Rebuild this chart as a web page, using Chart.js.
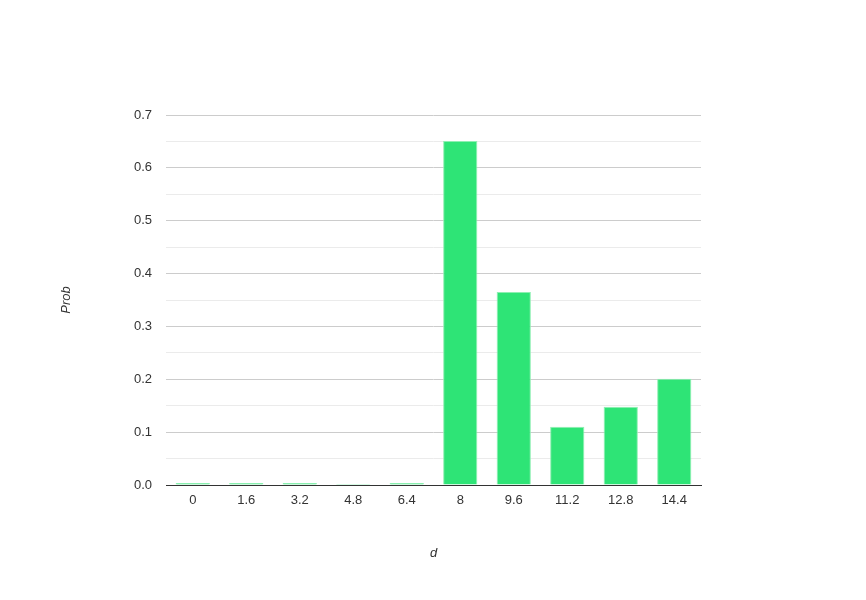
<!DOCTYPE html>
<html>
<head>
<meta charset="utf-8">
<script src="https://cdn.jsdelivr.net/npm/chart.js@4"></script>
<style>
  body { margin: 0; background: #fff; }
  #wrap { width: 866px; height: 600px; }
</style>
</head>
<body>
<div id="wrap"><canvas id="probChart" width="866" height="600"></canvas></div>
<script>
var labels = ["0", "1.6", "3.2", "4.8", "6.4", "8", "9.6", "11.2", "12.8", "14.4"];
var prob = [0.004, 0.004, 0.004, 0.002, 0.004, 0.651, 0.365, 0.110, 0.148, 0.201];

var ctx = document.getElementById("probChart").getContext('2d');

var probChart = new Chart(ctx, {
  type: 'bar',
  data: {
    labels: labels,
    datasets: [{
      data: prob,
      label: "Prob",
      backgroundColor: "#2ee476",
      borderColor: "#8ef0b2",
      borderWidth: 1,
      barPercentage: 0.64,
      categoryPercentage: 1
    }]
  },
  options: {
    responsive: false,
    animation: false,
    layout: { padding: { left: 0, right: 165, top: 115, bottom: 0 } },
    plugins: {
      legend: { display: false },
      tooltip: { enabled: false }
    },
    scales: {
      x: {
        grid: { display: false, drawTicks: false },
        border: { color: "#333", width: 1 },
        ticks: {
          color: "#333",
          padding: 8,
          font: { family: "'Liberation Sans', Arial", size: 13 }
        },
        title: {
          display: true,
          text: "d",
          color: "#333",
          padding: { top: 0, bottom: 39 },
          font: { family: "'Liberation Sans', Arial", size: 13, style: 'italic' }
        },
        afterFit: function(scale) { scale.height = 115; }
      },
      y: {
        min: 0,
        max: 0.7,
        border: { display: false },
        grid: {
          drawTicks: false,
          color: function(c) {
            var v = Math.round(c.tick.value * 100);
            if (v === 0) return "rgba(0,0,0,0)";
            return (v % 10 === 0) ? "#cccccc" : "#ebebeb";
          }
        },
        ticks: {
          stepSize: 0.05,
          color: "#333",
          padding: 14,
          font: { family: "'Liberation Sans', Arial", size: 13 },
          callback: function(value) {
            var v = Math.round(value * 100);
            if (v % 10 !== 0) return '';
            return (v / 100).toFixed(1);
          }
        },
        title: {
          display: true,
          text: "Prob",
          color: "#333",
          padding: { top: 59, bottom: 0 },
          font: { family: "'Liberation Sans', Arial", size: 13, style: 'italic' }
        },
        afterFit: function(scale) { scale.width = 166; }
      }
    }
  }
});
</script>
</body>
</html>
